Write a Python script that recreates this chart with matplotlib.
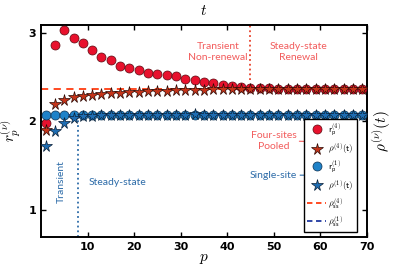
import numpy as np
from matplotlib import pyplot as plt
from matplotlib.lines import Line2D

plt.rcParams['mathtext.fontset'] = 'cm'

# odd pooling sizes p = 1, 3, ..., 69
p = list(range(1, 70, 2))

# four-sites pooled
r4 = [1.985, 2.86, 3.03, 2.94, 2.89, 2.81, 2.73, 2.69, 2.63, 2.60,
      2.58, 2.55, 2.54, 2.52, 2.51, 2.48, 2.47, 2.45, 2.43, 2.41,
      2.40, 2.39, 2.38, 2.38, 2.38, 2.37, 2.37, 2.37, 2.37, 2.37,
      2.37, 2.37, 2.37, 2.37, 2.36]
rho4 = [1.90, 2.20, 2.24, 2.27, 2.29, 2.30, 2.31, 2.32, 2.32, 2.33,
        2.33, 2.34, 2.34, 2.34, 2.35, 2.35, 2.35, 2.35, 2.36, 2.36,
        2.36, 2.36, 2.36, 2.36, 2.36, 2.36, 2.36, 2.36, 2.36, 2.36,
        2.36, 2.36, 2.36, 2.36, 2.36]

# single site
r1 = [2.07, 2.07, 2.07, 2.07, 2.07, 2.07, 2.07, 2.07, 2.07, 2.07,
      2.07, 2.07, 2.07, 2.07, 2.07, 2.07, 2.07, 2.07, 2.07, 2.07,
      2.07, 2.07, 2.07, 2.07, 2.07, 2.07, 2.07, 2.07, 2.07, 2.07,
      2.07, 2.07, 2.07, 2.07, 2.07]
rho1 = [1.72, 1.89, 1.985, 2.04, 2.06, 2.06, 2.07, 2.07, 2.07, 2.07,
        2.07, 2.07, 2.07, 2.07, 2.07, 2.07, 2.08, 2.07, 2.07, 2.07,
        2.07, 2.07, 2.07, 2.07, 2.07, 2.07, 2.07, 2.07, 2.07, 2.07,
        2.07, 2.07, 2.07, 2.07, 2.07]

rho_ss4 = 2.36
rho_ss1 = 2.07

c_r4 = '#E8112D'
c_rho4 = '#C4341A'
c_r1 = '#1F82C8'
c_rho1 = '#1F6DB2'
c_txt_red = '#F25C5C'
c_txt_blue = '#2C6BA8'

fig = plt.figure(figsize=(3.94, 2.66), dpi=100)
ax = fig.add_axes([0.104, 0.109, 0.827, 0.797])

ax.axhline(rho_ss4, color='#FF3B10', ls='--', lw=1.3, dashes=(4, 3), zorder=1)
ax.axhline(rho_ss1, color='#2038A0', ls='--', lw=1.3, dashes=(4, 3), zorder=1)

ax.plot(p, r4, 'o', ms=6.5, mfc=c_r4, mec='#5a0a10', mew=0.5, ls='none', zorder=3)
ax.plot(p, r1, 'o', ms=6.5, mfc=c_r1, mec='#0d3050', mew=0.5, ls='none', zorder=3)
ax.plot(p, rho4, '*', ms=8.5, mfc=c_rho4, mec='#2a0a05', mew=0.5, ls='none', zorder=4)
ax.plot(p, rho1, '*', ms=8.5, mfc=c_rho1, mec='#0a1f35', mew=0.5, ls='none', zorder=4)

# region separators
ax.plot([8, 8], [0.69, 2.02], ls=':', color=c_txt_blue, lw=1.3, zorder=2)
ax.plot([45, 45], [2.47, 3.1], ls=':', color='#E8412A', lw=1.3, zorder=2)

tfont = dict(family='Lato', fontsize=7.5)
ax.text(38, 2.78, 'Transient\nNon-renewal', color=c_txt_red, ha='center', va='center',
        linespacing=1.3, **tfont)
ax.text(55.3, 2.78, 'Steady-state\nRenewal', color=c_txt_red, ha='center', va='center',
        linespacing=1.3, **tfont)
ax.text(4.3, 1.32, 'Transient', color=c_txt_blue, ha='center', va='center',
        rotation=90, **tfont)
ax.text(10.2, 1.31, 'Steady-state', color=c_txt_blue, ha='left', va='center', **tfont)

ax.annotate('Four-sites\nPooled', xy=(58.3, 1.77), xytext=(50, 1.775),
            color=c_txt_red, ha='center', va='center', linespacing=1.3,
            arrowprops=dict(arrowstyle='->', color=c_txt_red, lw=0.8,
                            shrinkA=0, shrinkB=0, relpos=(1.0, 0.5)), **tfont)
ax.annotate('Single-site', xy=(62.4, 1.39), xytext=(50, 1.39),
            color=c_txt_blue, ha='center', va='center',
            arrowprops=dict(arrowstyle='->', color=c_txt_blue, lw=0.8,
                            shrinkA=0, shrinkB=0, relpos=(1.0, 0.5)), **tfont)

handles = [
    Line2D([], [], marker='o', ls='none', ms=6.5, mfc=c_r4, mec='#5a0a10', mew=0.5),
    Line2D([], [], marker='*', ls='none', ms=8.5, mfc=c_rho4, mec='#2a0a05', mew=0.5),
    Line2D([], [], marker='o', ls='none', ms=6.5, mfc=c_r1, mec='#0d3050', mew=0.5),
    Line2D([], [], marker='*', ls='none', ms=8.5, mfc=c_rho1, mec='#0a1f35', mew=0.5),
    Line2D([], [], color='#FF3B10', ls='--', lw=1.3, dashes=(3, 2)),
    Line2D([], [], color='#2038A0', ls='--', lw=1.3, dashes=(3, 2)),
]
labels = [r'$\mathsf{r_p^{(4)}}$', r'$\rho^{(4)}\mathsf{(t)}$',
          r'$\mathsf{r_p^{(1)}}$', r'$\rho^{(1)}\mathsf{(t)}$',
          r'$\rho_{\mathsf{ss}}^{(4)}$', r'$\rho_{\mathsf{ss}}^{(1)}$']
leg = ax.legend(handles, labels, loc='lower right', bbox_to_anchor=(0.97, 0.024),
                fontsize=6.5, frameon=True, fancybox=False, handlelength=2.1,
                labelspacing=0.36, borderpad=0.35, handletextpad=0.25,
                borderaxespad=0)
leg.get_frame().set_edgecolor('black')
leg.get_frame().set_linewidth(1.0)
leg.get_frame().set_alpha(1)
leg.set_zorder(5)

ax.set_xlim(0, 70)
ax.set_ylim(0.69, 3.09)
ax.set_xticks([10, 20, 30, 40, 50, 60, 70])
ax.set_yticks([1, 2, 3])
ax.tick_params(direction='in', top=True, right=True, length=3.5, width=1,
               labelsize=8)
for lab in ax.get_xticklabels() + ax.get_yticklabels():
    lab.set_fontweight('bold')
for s in ax.spines.values():
    s.set_linewidth(1.4)

ax.set_xlabel(r'$p$', fontsize=11)
ax.xaxis.set_label_coords(0.5, -0.065)
ax.text(-0.093, 0.5, r'$r_p^{(\nu)}$', transform=ax.transAxes, ha='center',
        va='center', rotation=90, fontsize=11)
ax.text(0.5, 1.035, r'$t$', transform=ax.transAxes, ha='center', va='bottom',
        fontsize=11)
ax.text(1.047, 0.5, r'$\rho^{(\nu)}(t)$', transform=ax.transAxes, ha='center',
        va='center', rotation=90, fontsize=11)

fig.savefig('out.png', dpi=100)
